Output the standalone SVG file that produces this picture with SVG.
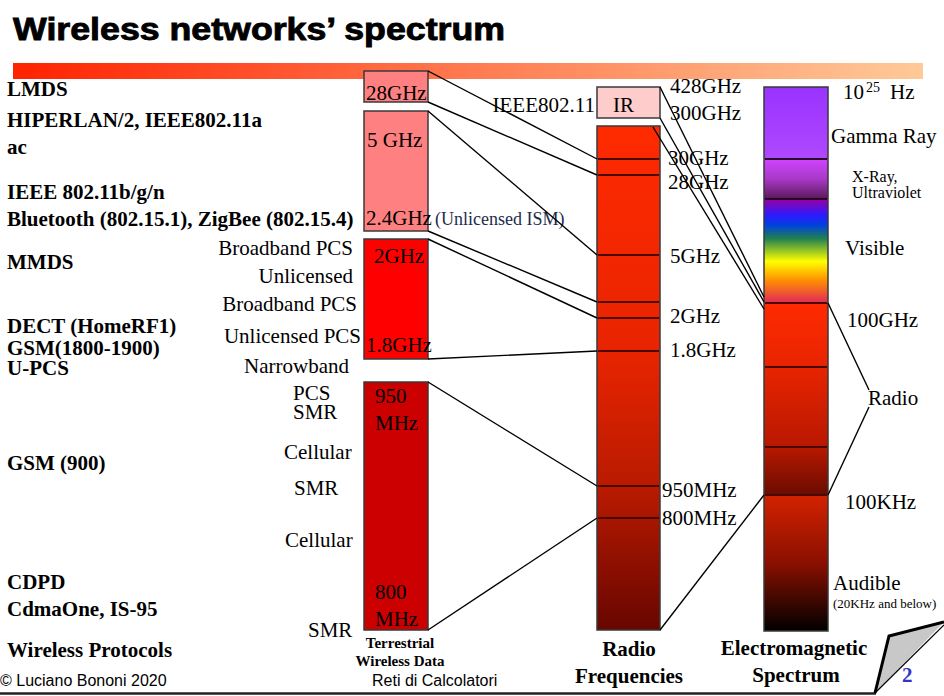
<svg xmlns="http://www.w3.org/2000/svg" width="944" height="696" viewBox="0 0 944 696">
<defs>
<style>
.t{font-family:"Liberation Serif","Times New Roman",serif;font-size:21px;fill:#000}
.b{font-family:"Liberation Serif","Times New Roman",serif;font-size:21px;font-weight:bold;fill:#000}
.s{font-family:"Liberation Sans",Arial,sans-serif;font-size:16px;fill:#000}
.box{stroke:#3a3a3a;stroke-width:1.5}
.sep{stroke:#4a0800;stroke-width:2}
.con{stroke:#000;stroke-width:1.4;fill:none}
.r{text-anchor:end}
.m{text-anchor:middle}
</style>
<linearGradient id="topbar" x1="0" y1="0" x2="1" y2="0">
<stop offset="0" stop-color="#ff2200"/>
<stop offset="0.5" stop-color="#ff7a50"/>
<stop offset="1" stop-color="#ffca98"/>
</linearGradient>
<linearGradient id="radioGrad" x1="0" y1="0" x2="0" y2="1">
<stop offset="0" stop-color="#ff2a00"/>
<stop offset="0.45" stop-color="#e82400"/>
<stop offset="0.72" stop-color="#b81a00"/>
<stop offset="1" stop-color="#680600"/>
</linearGradient>
<linearGradient id="gamma" x1="0" y1="0" x2="0" y2="1">
<stop offset="0" stop-color="#9933ff"/>
<stop offset="1" stop-color="#b048ff"/>
</linearGradient>
<linearGradient id="xray" x1="0" y1="0" x2="0" y2="1">
<stop offset="0" stop-color="#d044ff"/>
<stop offset="0.5" stop-color="#a838c8"/>
<stop offset="1" stop-color="#5a1a5a"/>
</linearGradient>
<linearGradient id="visible" x1="0" y1="0" x2="0" y2="1">
<stop offset="0" stop-color="#9a00a0"/>
<stop offset="0.15" stop-color="#3018ff"/>
<stop offset="0.25" stop-color="#0040e0"/>
<stop offset="0.38" stop-color="#208050"/>
<stop offset="0.6" stop-color="#ffff00"/>
<stop offset="0.78" stop-color="#ff9000"/>
<stop offset="1" stop-color="#e02858"/>
</linearGradient>
<linearGradient id="emradio" x1="0" y1="0" x2="0" y2="1">
<stop offset="0" stop-color="#ff2a00"/>
<stop offset="0.33" stop-color="#e82400"/>
<stop offset="0.75" stop-color="#b81800"/>
<stop offset="1" stop-color="#6a0c00"/>
</linearGradient>
<linearGradient id="audible" x1="0" y1="0" x2="0" y2="1">
<stop offset="0" stop-color="#d42200"/>
<stop offset="0.5" stop-color="#8a1000"/>
<stop offset="1" stop-color="#000000"/>
</linearGradient>
</defs>

<g id="title">
<text x="13" y="40" font-family="'Liberation Sans',Arial,sans-serif" font-size="32" font-weight="bold" stroke="#000" stroke-width="0.9" textLength="492" lengthAdjust="spacingAndGlyphs">Wireless networks’ spectrum</text>
<rect x="13" y="63" width="910" height="16" fill="url(#topbar)"/>
</g>

<g id="protocols">
<text class="b" x="7" y="96">LMDS</text>
<text class="b" x="7" y="127">HIPERLAN/2, IEEE802.11a</text>
<text class="b" x="7" y="154">ac</text>
<text class="b" x="7" y="199">IEEE 802.11b/g/n</text>
<text class="b" x="7" y="226">Bluetooth (802.15.1), ZigBee (802.15.4)</text>
<text class="b" x="7" y="269">MMDS</text>
<text class="b" x="7" y="333">DECT (HomeRF1)</text>
<text class="b" x="7" y="355">GSM(1800-1900)</text>
<text class="b" x="7" y="375">U-PCS</text>
<text class="b" x="7" y="470">GSM (900)</text>
<text class="b" x="7" y="589">CDPD</text>
<text class="b" x="7" y="616">CdmaOne, IS-95</text>
<text class="b" x="7" y="657">Wireless Protocols</text>
</g>

<g id="services">
<text class="t r" x="353" y="255">Broadband PCS</text>
<text class="t r" x="353" y="283">Unlicensed</text>
<text class="t r" x="357" y="311">Broadband PCS</text>
<text class="t r" x="361" y="343">Unlicensed PCS</text>
<text class="t r" x="349" y="373">Narrowband</text>
<text class="t" x="293" y="400">PCS</text>
<text class="t" x="293" y="419">SMR</text>
<text class="t" x="284" y="459">Cellular</text>
<text class="t" x="294" y="495">SMR</text>
<text class="t" x="285" y="547">Cellular</text>
<text class="t" x="308" y="637">SMR</text>
</g>

<g id="terrestrial">
<rect class="box" x="364" y="71" width="64" height="31" fill="#ff8080"/>
<text class="t" x="366" y="100">28GHz</text>
<rect class="box" x="364" y="111" width="64" height="120" fill="#ff8080"/>
<text class="t" x="367" y="147">5 GHz</text>
<text class="t" x="366" y="225">2.4GHz</text>
<text x="435" y="225" font-family="'Liberation Serif','Times New Roman',serif" font-size="18" fill="#1c2c4c">(Unlicensed ISM)</text>
<rect class="box" x="364" y="239" width="64" height="120" fill="#ff0000"/>
<text class="t" x="374" y="263">2GHz</text>
<text class="t" x="366" y="352">1.8GHz</text>
<rect class="box" x="364" y="382" width="64" height="248" fill="#cc0000"/>
<text class="t" x="375" y="403">950</text>
<text class="t" x="375" y="430">MHz</text>
<text class="t" x="375" y="599">800</text>
<text class="t" x="375" y="626">MHz</text>
<text x="400" y="648" class="m" font-family="'Liberation Serif','Times New Roman',serif" font-size="15" font-weight="bold">Terrestrial</text>
<text x="400" y="666" class="m" font-family="'Liberation Serif','Times New Roman',serif" font-size="15" font-weight="bold">Wireless Data</text>
</g>

<g id="radio-frequencies">
<rect class="box" x="597" y="87" width="63" height="31" fill="#ffcccc"/>
<text class="t" x="613" y="112">IR</text>
<text class="t r" x="595" y="112">IEEE802.11</text>
<rect class="box" x="597" y="126" width="63" height="504" fill="url(#radioGrad)"/>
<line class="sep" x1="598" y1="159" x2="659" y2="159"/>
<line class="sep" x1="598" y1="175" x2="659" y2="175"/>
<line class="sep" x1="598" y1="255" x2="659" y2="255"/>
<line class="sep" x1="598" y1="302" x2="659" y2="302"/>
<line class="sep" x1="598" y1="318" x2="659" y2="318"/>
<line class="sep" x1="598" y1="351" x2="659" y2="351"/>
<line class="sep" x1="598" y1="486" x2="659" y2="486"/>
<line class="sep" x1="598" y1="518" x2="659" y2="518"/>
<text class="t" x="670" y="93">428GHz</text>
<text class="t" x="670" y="120">300GHz</text>
<text class="t" x="668" y="165">30GHz</text>
<text class="t" x="668" y="189">28GHz</text>
<text class="t" x="670" y="263">5GHz</text>
<text class="t" x="670" y="323">2GHz</text>
<text class="t" x="670" y="357">1.8GHz</text>
<text class="t" x="662" y="497">950MHz</text>
<text class="t" x="662" y="525">800MHz</text>
<text class="b m" x="629" y="656">Radio</text>
<text class="b m" x="629" y="683">Frequencies</text>
</g>

<g id="em-spectrum">
<rect x="764" y="87" width="64" height="72" fill="url(#gamma)"/>
<rect x="764" y="159" width="64" height="40" fill="url(#xray)"/>
<rect x="764" y="199" width="64" height="104" fill="url(#visible)"/>
<rect x="764" y="303" width="64" height="192" fill="url(#emradio)"/>
<rect x="764" y="495" width="64" height="136" fill="url(#audible)"/>
<rect class="box" x="764" y="87" width="64" height="544" fill="none"/>
<line class="sep" x1="765" y1="159" x2="827" y2="159" style="stroke:#2a002a"/>
<line class="sep" x1="765" y1="199" x2="827" y2="199" style="stroke:#2a002a"/>
<line class="sep" x1="765" y1="303" x2="827" y2="303"/>
<line class="sep" x1="765" y1="367" x2="827" y2="367"/>
<line class="sep" x1="765" y1="447" x2="827" y2="447"/>
<line class="sep" x1="765" y1="495" x2="827" y2="495"/>
<text class="t" x="843" y="99">10</text>
<text class="t" x="866" y="92" style="font-size:14px">25</text>
<text class="t" x="890" y="99">Hz</text>
<text class="t" x="831" y="143">Gamma Ray</text>
<text class="t" x="852" y="182" style="font-size:16px">X-Ray,</text>
<text class="t" x="852" y="198" style="font-size:16px">Ultraviolet</text>
<text class="t" x="845" y="255">Visible</text>
<text class="t" x="847" y="327">100GHz</text>
<text class="t" x="868" y="405">Radio</text>
<text class="t" x="845" y="509">100KHz</text>
<text class="t" x="833" y="590">Audible</text>
<text class="t" x="833" y="608" style="font-size:13px">(20KHz and below)</text>
<text class="b m" x="794" y="655">Electromagnetic</text>
<text class="b m" x="796" y="682">Spectrum</text>
</g>

<g id="connectors">
<line class="con" x1="428" y1="71" x2="597" y2="159"/>
<line class="con" x1="428" y1="102" x2="597" y2="175"/>
<line class="con" x1="428" y1="111" x2="597" y2="255"/>
<line class="con" x1="428" y1="231" x2="597" y2="302"/>
<line class="con" x1="428" y1="239" x2="597" y2="318"/>
<line class="con" x1="428" y1="359" x2="597" y2="351"/>
<line class="con" x1="428" y1="382" x2="597" y2="486"/>
<line class="con" x1="428" y1="630" x2="597" y2="518"/>
<line class="con" x1="660" y1="87" x2="764" y2="297"/>
<line class="con" x1="660" y1="118" x2="764" y2="302"/>
<line class="con" x1="653" y1="127" x2="764" y2="309"/>
<line class="con" x1="660" y1="630" x2="764" y2="495"/>
<line class="con" x1="828" y1="303" x2="869" y2="390"/>
<line class="con" x1="869" y1="407" x2="828" y2="495"/>
</g>

<g id="footer">
<text class="s" x="0" y="686">© Luciano Bononi 2020</text>
<text class="s" x="372" y="686">Reti di Calcolatori</text>
<line x1="0" y1="693.5" x2="876" y2="693.5" stroke="#222" stroke-width="2.5"/>
<polygon points="889,636 944,622 875,693" fill="#c8c8c8"/>
<polyline points="944,622 889,636 875,693" fill="none" stroke="#000" stroke-width="3"/>
<line x1="944" y1="625" x2="875" y2="693" stroke="#000" stroke-width="1.2"/>
<text x="902" y="682" font-family="'Liberation Serif','Times New Roman',serif" font-size="21" font-weight="bold" fill="#3333cc">2</text>
</g>
</svg>
